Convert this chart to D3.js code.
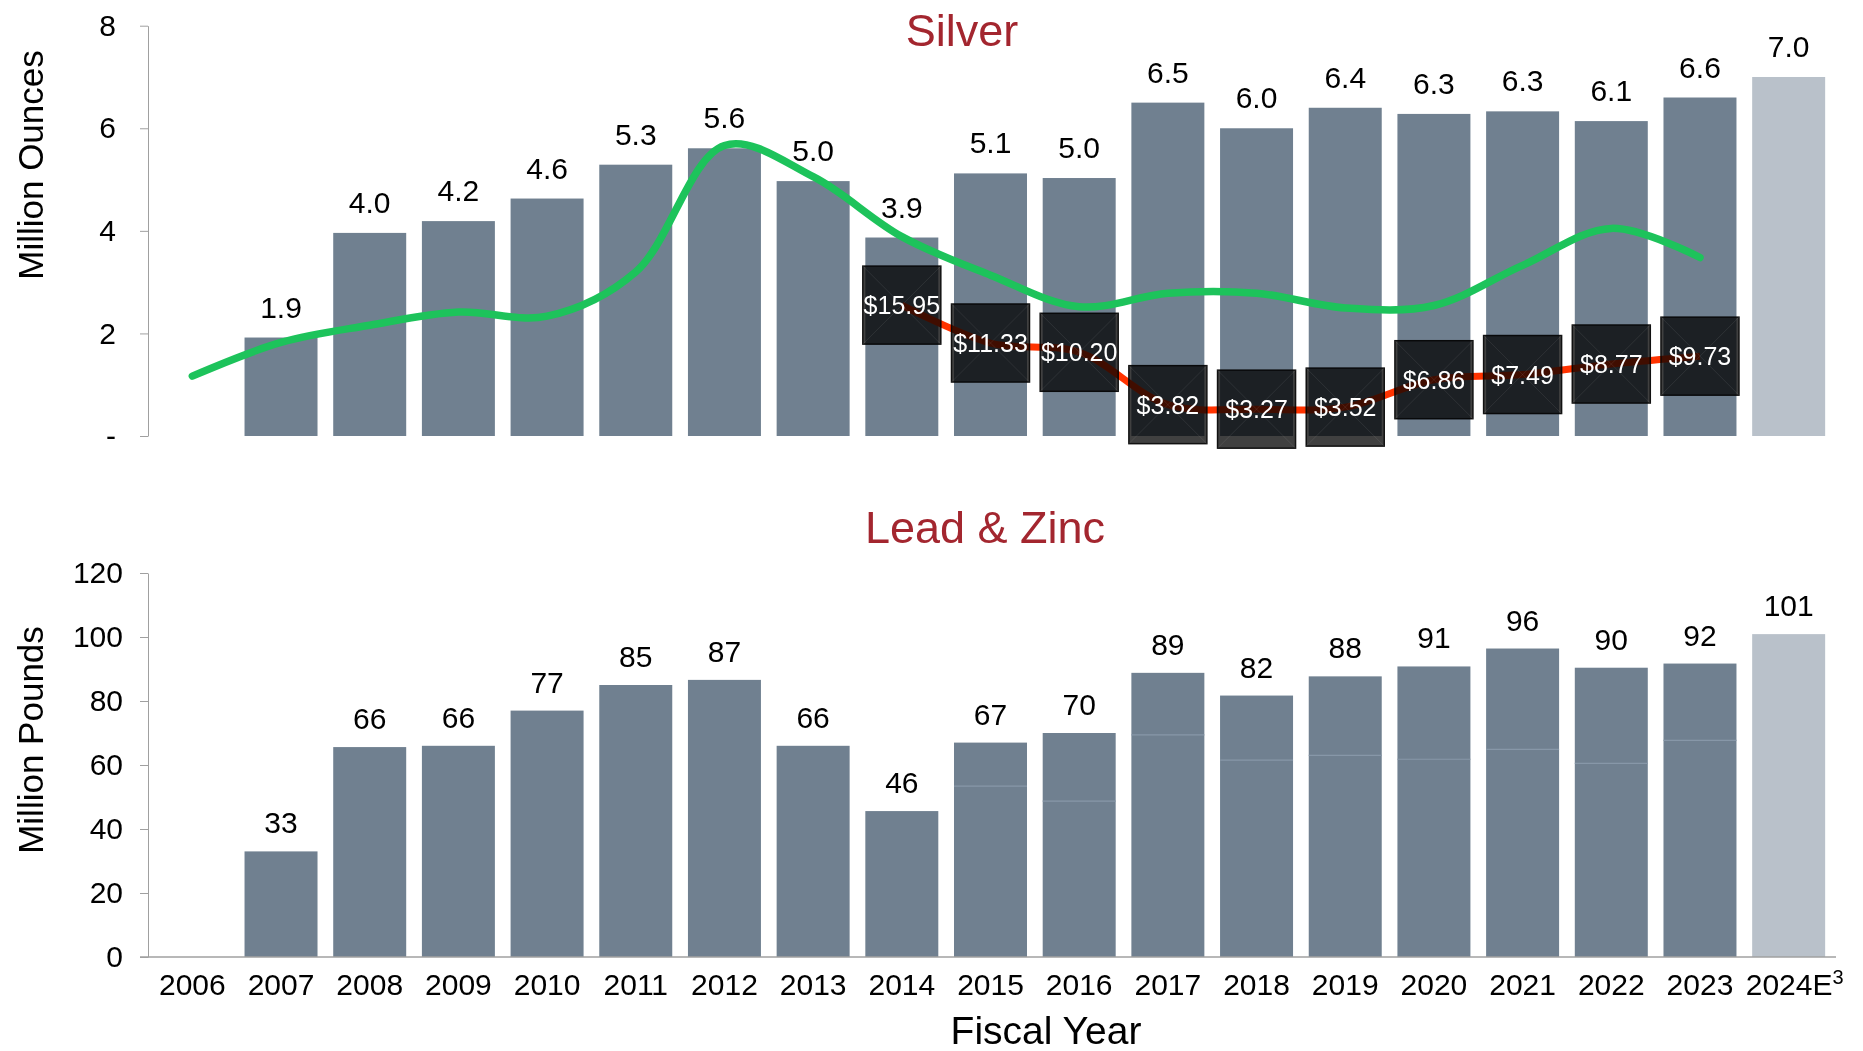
<!DOCTYPE html>
<meta charset="utf-8">
<style>
  body { margin: 0; background: #fff; }
  svg text { font-family: "Liberation Sans", Arial, sans-serif; }
  .axis path, .axis line { stroke: #a0a0a0; }
  .axis text { fill: #000; }
  .box { mix-blend-mode: multiply; }
</style>
<svg width="1863" height="1051"></svg>
<script src="https://d3js.org/d3.v7.min.js"></script>
<script>

  var years = ["2006", "2007", "2008", "2009", "2010", "2011", "2012", "2013", "2014", "2015",
               "2016", "2017", "2018", "2019", "2020", "2021", "2022", "2023", "2024E"];

  // silver production, million ounces
  var silver = [null, 1.92, 3.96, 4.19, 4.63, 5.29, 5.61, 4.97, 3.87, 5.12,
                5.03, 6.5, 6.0, 6.4, 6.28, 6.33, 6.14, 6.6, 7.0];

  // silver price, $/oz (secondary axis, 0-50)
  var silverPrice = [7.3, 11.4, 13.5, 15.1, 14.6, 20.0, 35.4, 31.6, 24.3, 19.6,
                     15.75, 17.4, 17.4, 15.6, 15.9, 20.8, 25.3, 21.75, null];

  // cash cost per ounce, $/oz (secondary axis)
  var cashCost = [null, null, null, null, null, null, null, null, 15.95, 11.33,
                  10.20, 3.82, 3.27, 3.52, 6.86, 7.49, 8.77, 9.73, null];

  // lead + zinc, million pounds
  var leadZinc = [null, 33, 65.6, 66, 77, 85, 86.6, 66, 45.6, 67,
                  70, 88.8, 81.7, 87.7, 90.8, 96.4, 90.4, 91.7, 100.9];

  // lower part of the lead/zinc bars
  var zincPart = [null, null, null, null, null, null, null, null, null, 53.4,
                  48.7, 69.4, 61.5, 63, 61.8, 64.9, 60.5, 67.7, null];

  var svg = d3.select("svg");

  var barColor = "#708090", estColor = "#b9c1ca";

  var x = d3.scaleBand().domain(years).range([148, 1833])
      .paddingInner(0.177).paddingOuter(0.0885);

  var yS = d3.scaleLinear().domain([0, 8]).range([436, 25.7]);
  var yP = d3.scaleLinear().domain([0, 50]).range([436, 25.7]);
  var yL = d3.scaleLinear().domain([0, 120]).range([957, 573]);

  function cx(i) { return x(years[i]) + x.bandwidth() / 2; }

  // ---------- Silver ----------
  var gTop = svg.append("g");

  gTop.append("g").attr("class", "axis")
      .attr("transform", "translate(148,0)")
      .call(d3.axisLeft(yS).tickValues([0, 2, 4, 6, 8]).tickSize(8).tickSizeOuter(0).tickPadding(24)
        .tickFormat(function(d) { return d === 0 ? "-" : d; }))
      .call(function(g) { g.selectAll("text").style("font-size", "30px"); });

  var sIdx = d3.range(years.length).filter(function(i) { return silver[i] != null; });

  gTop.selectAll(".sbar").data(sIdx).enter().append("rect")
      .attr("x", function(i) { return x(years[i]); })
      .attr("width", x.bandwidth())
      .attr("y", function(i) { return yS(silver[i]); })
      .attr("height", function(i) { return yS(0) - yS(silver[i]); })
      .attr("fill", function(i) { return years[i] === "2024E" ? estColor : barColor; });

  gTop.selectAll(".slab").data(sIdx).enter().append("text")
      .attr("x", cx)
      .attr("y", function(i) { return yS(silver[i]) - 20; })
      .attr("text-anchor", "middle")
      .style("font-size", "30px")
      .text(function(i) { return d3.format(".1f")(silver[i]); });

  var priceLine = d3.line()
      .defined(function(i) { return silverPrice[i] != null; })
      .x(cx).y(function(i) { return yP(silverPrice[i]); })
      .curve(d3.curveCatmullRom);

  gTop.append("path")
      .datum(d3.range(years.length))
      .attr("d", priceLine)
      .attr("fill", "none")
      .attr("stroke", "#1dc35b")
      .attr("stroke-width", 7.5)
      .attr("stroke-linecap", "round");

  var cIdx = d3.range(years.length).filter(function(i) { return cashCost[i] != null; });

  var costLine = d3.line()
      .x(cx).y(function(i) { return yP(cashCost[i]); })
      .curve(d3.curveCatmullRom);

  gTop.append("path")
      .datum(cIdx)
      .attr("d", costLine)
      .attr("fill", "none")
      .attr("stroke", "#ff3300")
      .attr("stroke-width", 7);

  var bs = 78;
  var box = gTop.selectAll(".cbox").data(cIdx).enter().append("g")
      .attr("transform", function(i) { return "translate(" + (cx(i) - bs / 2) + "," + (yP(cashCost[i]) - bs / 2) + ")"; });

  box.append("rect")
      .attr("class", "box")
      .attr("width", bs).attr("height", bs)
      .attr("fill", "#404040")
      .attr("stroke", "#111")
      .attr("stroke-width", 1.5);

  box.append("path")
      .attr("d", "M0,0L" + bs + "," + bs + "M" + bs + ",0L0," + bs)
      .attr("stroke", "rgba(255,255,255,0.08)")
      .attr("stroke-width", 1);

  gTop.selectAll(".clab").data(cIdx).enter().append("text")
      .attr("x", cx)
      .attr("y", function(i) { return yP(cashCost[i]); })
      .attr("dy", "0.36em")
      .attr("text-anchor", "middle")
      .attr("fill", "#fff")
      .style("font-size", "25px")
      .text(function(i) { return "$" + d3.format(".2f")(cashCost[i]); });

  gTop.append("text")
      .attr("x", 962).attr("y", 46)
      .attr("text-anchor", "middle")
      .attr("fill", "#a3262f")
      .style("font-size", "45px")
      .text("Silver");

  gTop.append("text")
      .attr("transform", "translate(43,165) rotate(-90)")
      .attr("text-anchor", "middle")
      .style("font-size", "35px")
      .text("Million Ounces");

  // ---------- Lead & Zinc ----------
  var gBot = svg.append("g");

  gBot.append("g").attr("class", "axis")
      .attr("transform", "translate(148,0)")
      .call(d3.axisLeft(yL).tickValues(d3.range(0, 121, 20)).tickSize(8).tickSizeOuter(0).tickPadding(17))
      .call(function(g) { g.selectAll("text").style("font-size", "30px"); });

  var lIdx = d3.range(years.length).filter(function(i) { return leadZinc[i] != null; });

  gBot.selectAll(".lbar").data(lIdx).enter().append("rect")
      .attr("x", function(i) { return x(years[i]); })
      .attr("width", x.bandwidth())
      .attr("y", function(i) { return yL(leadZinc[i]); })
      .attr("height", function(i) { return yL(0) - yL(leadZinc[i]); })
      .attr("fill", function(i) { return years[i] === "2024E" ? estColor : barColor; });

  var zIdx = d3.range(years.length).filter(function(i) { return zincPart[i] != null; });

  gBot.selectAll(".zline").data(zIdx).enter().append("line")
      .attr("x1", function(i) { return x(years[i]); })
      .attr("x2", function(i) { return x(years[i]) + x.bandwidth(); })
      .attr("y1", function(i) { return yL(zincPart[i]); })
      .attr("y2", function(i) { return yL(zincPart[i]); })
      .attr("stroke", "#8797a8")
      .attr("stroke-width", 1.2);

  gBot.selectAll(".llab").data(lIdx).enter().append("text")
      .attr("x", cx)
      .attr("y", function(i) { return yL(leadZinc[i]) - 18; })
      .attr("text-anchor", "middle")
      .style("font-size", "30px")
      .text(function(i) { return d3.format(".0f")(leadZinc[i]); });

  gBot.append("line")
      .attr("x1", 140).attr("x2", 1836)
      .attr("y1", 957).attr("y2", 957)
      .attr("stroke", "#a0a0a0").attr("stroke-width", 1.5);

  var xAxis = gBot.append("g").attr("class", "axis")
      .attr("transform", "translate(0,957)")
      .call(d3.axisBottom(x).tickSize(0).tickPadding(17));
  xAxis.select(".domain").remove();
  xAxis.selectAll("text").style("font-size", "30px");

  var last = xAxis.selectAll(".tick text").filter(function(d) { return d === "2024E"; });
  last.attr("dx", 6);
  last.append("tspan")
      .attr("dy", "-0.55em")
      .style("font-size", "20px")
      .text("3");

  gBot.append("text")
      .attr("x", 985).attr("y", 543)
      .attr("text-anchor", "middle")
      .attr("fill", "#a3262f")
      .style("font-size", "45px")
      .text("Lead & Zinc");

  gBot.append("text")
      .attr("transform", "translate(43,740) rotate(-90)")
      .attr("text-anchor", "middle")
      .style("font-size", "35px")
      .text("Million Pounds");

  svg.append("text")
      .attr("x", 1046).attr("y", 1044)
      .attr("text-anchor", "middle")
      .style("font-size", "39px")
      .text("Fiscal Year");

</script>
